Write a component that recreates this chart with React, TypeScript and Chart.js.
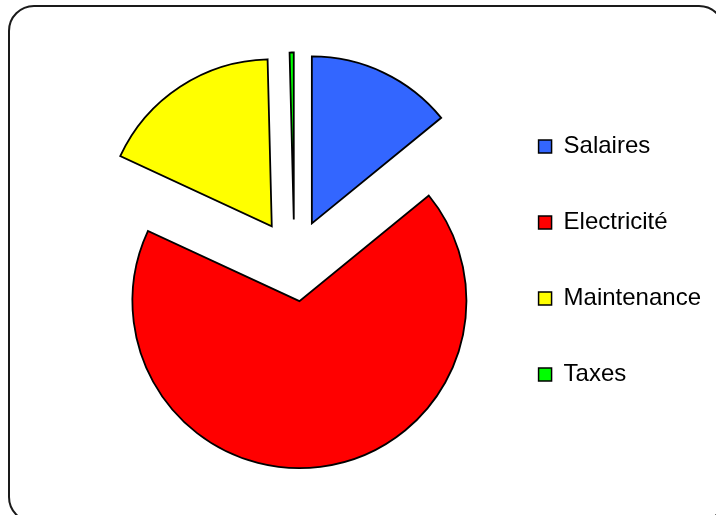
import React, { useEffect, useRef } from "react";
import { Chart, registerables } from "chart.js";

Chart.register(...registerables);

const categories = ["Salaires", "Electricité", "Maintenance", "Taxes"];
const values = [14.1, 67.8, 17.7, 0.4];
const colors = ["#3366FF", "#FF0000", "#FFFF00", "#00FF00"];

const RADIUS = 167;
const OFFSET = 164; // Chart.js translates each arc by offset / 4

const framePlugin = {
  id: "frame",
  beforeDraw(chart: any) {
    const ctx = chart.ctx;
    ctx.save();
    ctx.fillStyle = "#ffffff";
    ctx.fillRect(0, 0, chart.width, chart.height);
    ctx.beginPath();
    ctx.roundRect(9, 6, 715, 516, 25);
    ctx.lineWidth = 2;
    ctx.strokeStyle = "#1a1a1a";
    ctx.stroke();
    ctx.restore();
  },
};

// Chart.js grows exploded slices by a radius offset and trims their arc length by offset/PI;
// undo both so every slice keeps the same radius and its true angle.
const equalRadiusPlugin = {
  id: "equalRadius",
  afterDatasetsUpdate(chart: any) {
    const meta = chart.getDatasetMeta(0);
    meta.data.forEach((el: any) => {
      const fix = 1 - Math.sin(Math.min(Math.PI, el.circumference || 0));
      const radOff = (OFFSET / 4) * fix;
      el.outerRadius = RADIUS - radOff;
      const d = radOff / (Math.PI * RADIUS) / 2;
      el.startAngle -= d;
      el.endAngle += d;
    });
  },
};

export default function App() {
  const ref = useRef<HTMLCanvasElement>(null);
  useEffect(() => {
    const chart = new Chart(ref.current!, {
      type: "pie",
      data: {
        labels: categories,
        datasets: [
          {
            data: values,
            backgroundColor: colors,
            borderColor: "#000000",
            borderWidth: 1.8,
            borderJoinStyle: "miter",
            offset: OFFSET,
            hoverOffset: 0,
          } as any,
        ],
      },
      options: {
        responsive: false,
        animation: false,
        radius: RADIUS,
        layout: { padding: { left: 102, right: 5, top: 6, bottom: 0 } },
        plugins: {
          tooltip: { enabled: false },
          legend: {
            position: "right",
            align: "center",
            labels: {
              color: "#000000",
              font: { family: "Arial, 'Liberation Sans', sans-serif", size: 24 },
              boxWidth: 13,
              boxHeight: 13,
              padding: 52,
              generateLabels: (chart: any) =>
                categories.map((c, i) => ({
                  text: c,
                  fillStyle: colors[i],
                  strokeStyle: "#000000",
                  lineWidth: 1.5,
                  hidden: false,
                  index: i,
                })),
            },
          },
        },
      } as any,
      plugins: [framePlugin, equalRadiusPlugin],
    });
    return () => chart.destroy();
  }, []);
  return (
    <div style={{ position: "fixed", left: 0, top: 0, width: 716, height: 515, overflow: "hidden" }}>
      <canvas ref={ref} width={716} height={515} style={{ display: "block" }} />
    </div>
  );
}
